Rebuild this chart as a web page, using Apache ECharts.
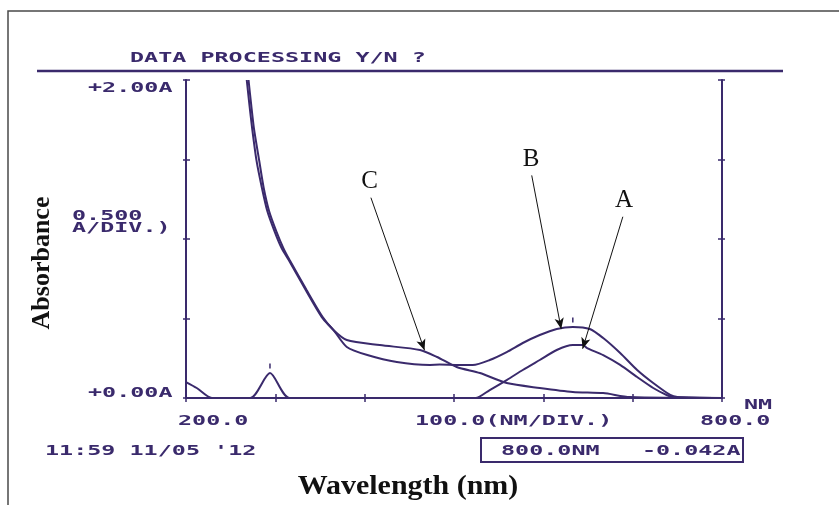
<!DOCTYPE html>
<html>
<head>
<meta charset="utf-8">
<script src="https://cdn.jsdelivr.net/npm/echarts@6/dist/echarts.min.js"></script>
<style>
  html, body { margin: 0; padding: 0; background: #ffffff; }
  #chart { width: 839px; height: 505px; }
</style>
</head>
<body>
<div id="chart"></div>
<script>
// ---- Spectrum traces: wavelength (nm) and absorbance (A) ----
const wavelengthA = [200, 212, 229, 272, 294, 316, 524, 540, 559, 577, 596, 615, 633, 644, 649, 667, 686, 705, 723, 738, 745, 800];
const absorbanceA = [0.10, 0.063, 0, 0, 0.157, 0, 0, 0.050, 0.113, 0.176, 0.239, 0.302, 0.333, 0.333, 0.314, 0.270, 0.208, 0.132, 0.063, 0.019, 0.006, 0];

const wavelengthB = [268, 271, 274, 279, 285, 291, 299, 307, 315, 334, 352, 365, 380, 403, 436, 473, 484, 503, 521, 540, 559, 577, 596, 615, 633, 652, 667, 686, 705, 723, 742, 750, 800];
const absorbanceB = [2.00, 1.843, 1.698, 1.491, 1.321, 1.176, 1.050, 0.943, 0.868, 0.679, 0.509, 0.428, 0.321, 0.270, 0.226, 0.208, 0.210, 0.208, 0.208, 0.239, 0.289, 0.346, 0.396, 0.434, 0.447, 0.434, 0.377, 0.283, 0.176, 0.094, 0.019, 0.006, 0];

const wavelengthC = [270, 273, 276, 282, 287, 293, 301, 309, 316, 335, 353, 365, 380, 417, 462, 481, 503, 529, 559, 596, 633, 667, 697, 800];
const absorbanceC = [2.00, 1.843, 1.698, 1.491, 1.321, 1.176, 1.050, 0.943, 0.868, 0.679, 0.509, 0.428, 0.365, 0.333, 0.302, 0.258, 0.195, 0.157, 0.094, 0.063, 0.038, 0.031, 0.006, 0];

// Axis ranges (nm, A) as printed by the instrument
const wavelengthRange = [200, 800];
const wavelengthStep = 100;
const absorbanceRange = [0, 2.0];
const absorbanceStep = 0.5;

// Printed instrument text
const headerText = 'DATA PROCESSING Y/N ?';
const yTopLabel = '+2.00A';
const yScaleLabel = ['0.500', 'A/DIV.)'];
const yBottomLabel = '+0.00A';
const xStartLabel = '200.0';
const xScaleLabel = '100.0(NM/DIV.)';
const xEndLabel = '800.0';
const xUnitLabel = 'NM';
const timestampText = "11:59 11/05 '12";
const cursorText = '800.0NM   -0.042A';

// Curve annotations: label, arrow tail and arrow head (nm, A)
const arrowA = { label: 'A', from: [689, 1.14], to: [644, 0.31] };
const arrowB = { label: 'B', from: [587, 1.40], to: [620, 0.434] };
const arrowC = { label: 'C', from: [407, 1.26], to: [467, 0.30] };

// Peak pick marks (nm, A)
const peakA = [294, 0.157];
const peakB = [633, 0.447];

const INK = '#3a2a6c';
const PRINT_FONT = 'bold 13px "DejaVu Sans Mono"';
const PRINT_SCALE = 1.8;

function pairs(xs, ys) { return xs.map((x, i) => [x, ys[i]]); }

function printText(text, x, y) {
  return {
    type: 'text', x: x, y: y, scaleX: PRINT_SCALE, scaleY: 1.08, silent: true,
    style: { text: text, font: PRINT_FONT, fill: INK, textAlign: 'left', textVerticalAlign: 'middle' }
  };
}

function arrowMark(a) {
  return {
    silent: true,
    symbol: ['none', 'arrow'],
    symbolSize: [7, 11],
    lineStyle: { color: '#111111', width: 1, type: 'solid' },
    label: {
      show: true, position: 'start', formatter: a.label, distance: 4,
      fontFamily: '"Liberation Serif"', fontSize: 25, color: '#111111'
    },
    emphasis: { disabled: true },
    data: [[{ coord: a.from }, { coord: a.to }]]
  };
}

function peakMark(p) {
  return {
    silent: true,
    symbol: 'rect', symbolSize: [1.5, 5], symbolOffset: [0, -7],
    itemStyle: { color: INK },
    label: { show: false },
    data: [{ coord: p }]
  };
}

const baseX = { type: 'value', min: wavelengthRange[0], max: wavelengthRange[1], interval: wavelengthStep, splitLine: { show: false }, axisLabel: { show: false } };
const baseY = { type: 'value', min: absorbanceRange[0], max: absorbanceRange[1], interval: absorbanceStep, splitLine: { show: false }, axisLabel: { show: false } };
const frameLine = { show: true, lineStyle: { color: INK, width: 2 } };
const tickIn = { show: true, inside: true, length: 4, lineStyle: { color: INK, width: 1.5 } };
const tickOut = { show: true, inside: false, length: 3, lineStyle: { color: INK, width: 1.5 } };

function trace(xs, ys, extra) {
  return Object.assign({
    type: 'line', xAxisIndex: 0, yAxisIndex: 0,
    data: pairs(xs, ys), showSymbol: false, smooth: 0.25, clip: true,
    lineStyle: { color: INK, width: 2 }, itemStyle: { color: INK }
  }, extra);
}

const chart = echarts.init(document.getElementById('chart'), null, { renderer: 'canvas' });
chart.setOption({
  animation: false,
  backgroundColor: '#ffffff',
  grid: { left: 186, top: 80, width: 536, height: 318 },
  xAxis: [
    Object.assign({}, baseX, { position: 'bottom', axisLine: frameLine, axisTick: tickIn }),
    Object.assign({}, baseX, { position: 'top', axisLine: frameLine, axisTick: tickIn }),
    Object.assign({}, baseX, { position: 'bottom', axisLine: { show: false }, axisTick: tickOut }),
    Object.assign({}, baseX, { position: 'top', axisLine: { show: false }, axisTick: tickOut })
  ],
  yAxis: [
    Object.assign({}, baseY, { position: 'left', axisLine: frameLine, axisTick: tickIn }),
    Object.assign({}, baseY, { position: 'right', axisLine: frameLine, axisTick: tickIn }),
    Object.assign({}, baseY, { position: 'left', axisLine: { show: false }, axisTick: tickOut }),
    Object.assign({}, baseY, { position: 'right', axisLine: { show: false }, axisTick: tickOut })
  ],
  series: [
    trace(wavelengthA, absorbanceA, { name: 'A', markLine: arrowMark(arrowA), markPoint: peakMark(peakA) }),
    trace(wavelengthB, absorbanceB, { name: 'B', markLine: arrowMark(arrowB), markPoint: peakMark(peakB) }),
    trace(wavelengthC, absorbanceC, { name: 'C', markLine: arrowMark(arrowC) })
  ],
  graphic: [
    // outer frame of the figure
    { type: 'rect', silent: true, shape: { x: 8, y: 11, width: 860, height: 520 },
      style: { fill: 'none', stroke: '#4a4a4a', lineWidth: 1.5 } },
    // rule under the printer header
    { type: 'line', silent: true, shape: { x1: 37, y1: 71, x2: 783, y2: 71 },
      style: { stroke: INK, lineWidth: 2.5 } },
    printText(headerText, 130, 58),
    printText(yTopLabel, 88, 88),
    printText(yScaleLabel[0], 72, 216),
    printText(yScaleLabel[1], 72, 228),
    printText(yBottomLabel, 88, 393),
    printText(xStartLabel, 178, 421),
    printText(xScaleLabel, 415, 421),
    printText(xEndLabel, 700, 421),
    printText(xUnitLabel, 744, 405),
    printText(timestampText, 45, 451),
    { type: 'rect', silent: true, shape: { x: 481, y: 438, width: 262, height: 24 },
      style: { fill: 'none', stroke: INK, lineWidth: 2 } },
    printText(cursorText, 501, 451),
    // axis titles
    { type: 'text', silent: true, x: 42, y: 263, rotation: Math.PI / 2,
      style: { text: 'Absorbance', font: 'bold 26px "Liberation Serif"', fill: '#111111',
               textAlign: 'center', textVerticalAlign: 'middle' } },
    { type: 'text', silent: true, x: 408, y: 487, scaleX: 1.07,
      style: { text: 'Wavelength (nm)', font: 'bold 28px "Liberation Serif"', fill: '#111111',
               textAlign: 'center', textVerticalAlign: 'middle' } }
  ]
});
</script>
</body>
</html>
